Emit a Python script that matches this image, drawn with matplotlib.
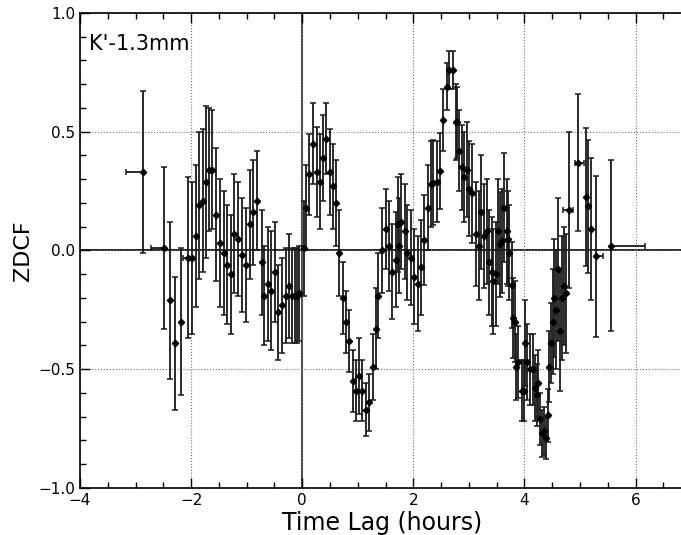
import matplotlib
matplotlib.use("Agg")
import matplotlib.pyplot as plt
import numpy as np
from matplotlib.ticker import MultipleLocator

# ZDCF values
lag = [
    -2.87, -2.49, -2.38, -2.29, -2.19, -2.05, -1.99, -1.92, -1.86, -1.79,
    -1.74, -1.68, -1.62, -1.55, -1.48, -1.41, -1.35, -1.29, -1.22, -1.16,
    -1.08, -1.01, -0.94, -0.88, -0.81, -0.73, -0.68, -0.62, -0.56, -0.49,
    -0.43, -0.36, -0.29, -0.23, -0.18, -0.13, -0.09, -0.05, 0.03, 0.07,
    0.13, 0.19, 0.26, 0.32, 0.37, 0.43, 0.50, 0.55, 0.61, 0.67,
    0.74, 0.79, 0.85, 0.92, 0.96, 1.02, 1.08, 1.15, 1.21, 1.27,
    1.32, 1.37, 1.43, 1.50, 1.56, 1.62, 1.68, 1.72, 1.75, 1.78,
    1.85, 1.89, 1.96, 2.02, 2.08, 2.13, 2.20, 2.26, 2.32, 2.36,
    2.42, 2.48, 2.53, 2.60, 2.65, 2.71, 2.76, 2.79, 2.83, 2.88,
    2.92, 2.97, 3.01, 3.05, 3.12, 3.19, 3.22, 3.27, 3.32, 3.36,
    3.41, 3.44, 3.48, 3.53, 3.56, 3.60, 3.64, 3.68, 3.71, 3.73,
    3.77, 3.79, 3.83, 3.85, 3.89, 3.96, 3.99, 4.01, 4.04, 4.10,
    4.15, 4.19, 4.22, 4.25, 4.28, 4.32, 4.35, 4.38, 4.42, 4.45,
    4.48, 4.51, 4.54, 4.57, 4.61, 4.64, 4.67, 4.71, 4.74, 4.80,
    4.96, 5.11, 5.14, 5.19, 5.29, 5.56,
]
zdcf = [
    0.33, 0.01, -0.21, -0.39, -0.30, -0.03, -0.03, 0.06, 0.19, 0.21,
    0.29, 0.34, 0.34, 0.15, 0.03, -0.01, -0.06, -0.10, 0.07, 0.05,
    -0.02, -0.06, 0.11, 0.16, 0.21, -0.05, -0.19, -0.14, -0.17, -0.09,
    -0.26, -0.23, -0.19, -0.15, -0.19, -0.19, -0.19, -0.18, 0.01, 0.18,
    0.32, 0.45, 0.33, 0.29, 0.39, 0.47, 0.33, 0.27, 0.20, -0.01,
    -0.20, -0.30, -0.38, -0.55, -0.59, -0.53, -0.59, -0.67, -0.64, -0.49,
    -0.33, -0.19, 0.00, 0.09, 0.02, -0.09, -0.04, 0.11, 0.02, 0.12,
    0.08, -0.01, -0.03, -0.11, -0.14, -0.07, 0.045, 0.18, 0.28, 0.285,
    0.29, 0.335, 0.55, 0.69, 0.76, 0.76, 0.54, 0.54, 0.42, 0.35,
    0.31, 0.34, 0.26, 0.24, 0.07, 0.02, 0.16, 0.06, 0.08, -0.05,
    -0.09, -0.13, -0.10, 0.08, 0.025, 0.04, 0.18, 0.08, 0.05, -0.01,
    -0.145, -0.285, -0.30, -0.49, -0.47, -0.59, -0.59, -0.39, -0.47, -0.50,
    -0.50, -0.58, -0.61, -0.56, -0.71, -0.77, -0.76, -0.79, -0.695, -0.49,
    -0.39, -0.30, -0.20, -0.25, -0.08, -0.34, -0.20, -0.15, -0.18, 0.17,
    0.37, 0.225, 0.185, 0.09, -0.025, 0.02,
]
zdcf_err = [
    0.34, 0.34, 0.33, 0.28, 0.31, 0.34, 0.32, 0.30, 0.31, 0.30,
    0.32, 0.26, 0.25, 0.28, 0.27, 0.26, 0.25, 0.25, 0.25, 0.24,
    0.24, 0.24, 0.23, 0.22, 0.21, 0.22, 0.21, 0.24, 0.25, 0.21,
    0.20, 0.20, 0.20, 0.22, 0.20, 0.20, 0.20, 0.20, 0.20, 0.18,
    0.17, 0.17, 0.19, 0.20, 0.18, 0.15, 0.18, 0.18, 0.18, 0.18,
    0.15, 0.13, 0.13, 0.13, 0.13, 0.16, 0.13, 0.11, 0.12, 0.14,
    0.17, 0.18, 0.18, 0.17, 0.19, 0.20, 0.20, 0.20, 0.20, 0.20,
    0.20, 0.20, 0.20, 0.20, 0.20, 0.20, 0.19, 0.18, 0.18, 0.18,
    0.17, 0.16, 0.13, 0.10, 0.08, 0.08, 0.16, 0.15, 0.17, 0.18,
    0.19, 0.20, 0.20, 0.21, 0.22, 0.23, 0.24, 0.22, 0.22, 0.22,
    0.23, 0.22, 0.22, 0.22, 0.22, 0.22, 0.23, 0.22, 0.20, 0.20,
    0.18, 0.17, 0.17, 0.14, 0.15, 0.13, 0.13, 0.18, 0.16, 0.15,
    0.15, 0.14, 0.13, 0.14, 0.11, 0.10, 0.10, 0.09, 0.11, 0.15,
    0.17, 0.22, 0.25, 0.25, 0.30, 0.25, 0.26, 0.25, 0.25, 0.33,
    0.29, 0.29, 0.28, 0.30, 0.34, 0.36,
]

# the few lags whose bin widths show up as horizontal bars
wide_lag = [-2.87, -2.49, -2.05, 0.03, 4.80, 4.96, 5.29, 5.56]
wide_zdcf = [0.33, 0.01, -0.03, 0.01, 0.17, 0.37, -0.025, 0.02]
wide_lo = [0.31, 0.23, 0.09, 0.04, 0.10, 0.05, 0.0, 0.0]
wide_hi = [0.0, 0.0, 0.0, 0.02, 0.08, 0.11, 0.13, 0.61]

fig = plt.figure(figsize=(6.81, 5.35), dpi=100)
ax = fig.add_axes([0.1175, 0.088, 0.886, 0.8878])

ax.grid(True, which="major", linestyle=":", color="0.45", linewidth=0.8)
ax.axhline(0, color="k", linewidth=1.2, zorder=1)
ax.axvline(0, color="0.3", linewidth=1.5, zorder=1)

ax.errorbar(lag, zdcf, yerr=zdcf_err, fmt="D", color="k", markersize=3.2,
            ecolor="0.1", elinewidth=1.3, capsize=2.2, capthick=1.1, zorder=3)
ax.errorbar(wide_lag, wide_zdcf, xerr=[wide_lo, wide_hi], fmt="none",
            ecolor="0.1", elinewidth=1.3, capsize=2.2, capthick=1.1, zorder=3)

ax.set_xlim(-4, 6.86)
ax.set_ylim(-1.0, 1.0)
ax.xaxis.set_major_locator(MultipleLocator(2))
ax.xaxis.set_minor_locator(MultipleLocator(0.5))
ax.yaxis.set_major_locator(MultipleLocator(0.5))
ax.yaxis.set_minor_locator(MultipleLocator(0.1))
ax.tick_params(which="both", direction="in", top=True, right=False, labelsize=11)
ax.tick_params(which="major", length=7, width=1)
ax.tick_params(which="minor", length=4, width=1)
for s in ax.spines.values():
    s.set_linewidth(1.2)

ax.set_xlabel("Time Lag (hours)", fontsize=17, labelpad=2)
ax.set_ylabel("ZDCF", fontsize=16, labelpad=4)
ax.text(0.015, 0.955, "K'-1.3mm", transform=ax.transAxes, fontsize=15,
        ha="left", va="top")

fig.savefig("out.png", dpi=100)
